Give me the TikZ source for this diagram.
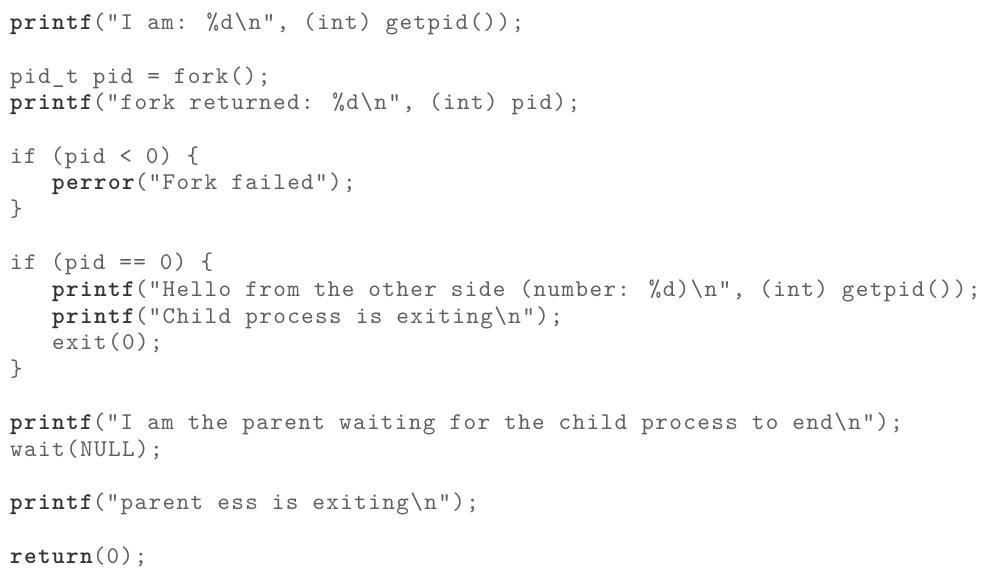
\documentclass[tikz,border=0pt]{standalone}
\usepackage{fontspec}
\newfontfamily\codefont[Extension=.otf, BoldFont=lmmonolt10-bold, LetterSpace=5.8]{lmmono10-regular}
\usepackage{xcolor}
\definecolor{codegray}{RGB}{95,95,95}
\definecolor{codebold}{RGB}{50,50,50}
\newcommand{\kw}[1]{{\bfseries\color{codebold}#1}}
\newcommand{\bs}{\textbackslash}

\begin{document}
\begin{tikzpicture}[
	x=1pt, y=-1pt,
	code/.style={
	  anchor=base west,
	  inner sep=0pt,
	  font=\codefont\fontsize{24}{26}\selectfont,
	  text=codegray
	  }
	]
		\useasboundingbox (0,0) rectangle (996,577);
		\fill[white] (0,0) rectangle (996,577);

		\node[code] (iam) at (10,30) {\kw{printf}("I am: \%d\bs n", (int) getpid());};

		\node[code] (forkcall) at (10,83.3) {pid\_t pid = fork();};
		\node[code] (forkret) at (10,110) {\kw{printf}("fork returned: \%d\bs n", (int) pid);};

		\node[code] (iffail) at (10,163.3) {if (pid < 0) \{};
		\node[code] (perr) at (52,190) {\kw{perror}("Fork failed");};
		\node[code] (endfail) at (10,216.6) {\}};

		\node[code] (ifchild) at (10,269.9) {if (pid == 0) \{};
		\node[code] (hello) at (52,296.5) {\kw{printf}("Hello from the other side (number: \%d)\bs n", (int) getpid());};
		\node[code] (childexit) at (52,323.2) {\kw{printf}("Child process is exiting\bs n");};
		\node[code] (exitcall) at (52,349.8) {exit(0);};
		\node[code] (endchild) at (10,376.5) {\}};

		\node[code] (parwait) at (10,429.8) {\kw{printf}("I am the parent waiting for the child process to end\bs n");};
		\node[code] (waitcall) at (10,456.4) {wait(NULL);};

		\node[code] (parexit) at (10,509.7) {\kw{printf}("parent ess is exiting\bs n");};

		\node[code] (ret) at (10,563) {\kw{return}(0);};
	\end{tikzpicture}
\end{document}
